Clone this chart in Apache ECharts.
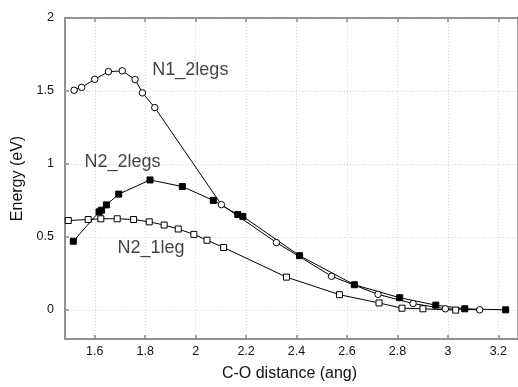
<!DOCTYPE html>
<html>
<head>
<meta charset="utf-8">
<script src="https://cdn.jsdelivr.net/npm/echarts@6/dist/echarts.min.js"></script>
<style>
  html, body { margin: 0; padding: 0; background: #fff; }
  #chart { width: 518px; height: 387px; }
</style>
</head>
<body>
<div id="chart"></div>
<script>
// C-O distance (ang) vs energy (eV)
const n1TwoLegs = [
  [1.518, 1.505], [1.548, 1.525], [1.600, 1.580], [1.654, 1.632], [1.709, 1.638],
  [1.760, 1.578], [1.789, 1.487], [1.838, 1.386], [2.102, 0.721], [2.320, 0.461],
  [2.539, 0.230], [2.723, 0.106], [2.862, 0.043], [2.990, 0.007], [3.126, 0.0],
];
const n2TwoLegs = [
  [1.515, 0.470], [1.617, 0.671], [1.627, 0.683], [1.646, 0.719], [1.695, 0.793],
  [1.819, 0.890], [1.947, 0.845], [2.070, 0.750], [2.167, 0.653], [2.187, 0.640],
  [2.412, 0.371], [2.629, 0.172], [2.809, 0.083], [2.952, 0.032], [3.067, 0.007],
  [3.229, 0.0],
];
const n2OneLeg = [
  [1.495, 0.612], [1.574, 0.619], [1.624, 0.624], [1.689, 0.624], [1.754, 0.619],
  [1.816, 0.603], [1.875, 0.581], [1.931, 0.554], [1.993, 0.517], [2.045, 0.477],
  [2.111, 0.427], [2.360, 0.224], [2.570, 0.104], [2.727, 0.047], [2.818, 0.011],
  [2.901, 0.007], [3.031, -0.002],
];
const xTicks = [1.6, 1.8, 2, 2.2, 2.4, 2.6, 2.8, 3, 3.2];
const yTicks = [0, 0.5, 1, 1.5, 2];
const curveLabels = [
  { name: "N1_2legs", value: [1.979, 1.646] },
  { name: "N2_2legs", value: [1.710, 1.010] },
  { name: "N2_1leg", value: [1.823, 0.424] },
];

const FONT = "Liberation Sans, Arial, Helvetica, sans-serif";
const axisGray = "#8a8a8a";

const chart = echarts.init(document.getElementById("chart"), null, { renderer: "canvas" });

const lineSeries = (name, data, symbol, filled) => ({
  name,
  type: "line",
  data,
  symbol,
  symbolSize: symbol === "circle" ? 6.5 : 6,
  showAllSymbol: true,
  lineStyle: { color: "#000", width: 1 },
  itemStyle: { color: filled ? "#000" : "#fff", borderColor: "#000", borderWidth: 1 },
  z: 3,
});

const lineStyle = { show: true, onZero: false, lineStyle: { color: axisGray, width: 1.5 } };
const tickStyle = { show: true, inside: true, length: 4, lineStyle: { color: axisGray, width: 1.5 } };

// plot box runs a few px past the right edge, as in the cropped original
chart.setOption({
  animation: false,
  backgroundColor: "#fff",
  textStyle: { fontFamily: FONT },
  grid: { left: 65, right: -4, top: 18, bottom: 45, show: true, borderColor: axisGray, borderWidth: 1.5, backgroundColor: "transparent" },
  xAxis: [
    {
      type: "value",
      min: 1.482,
      max: 3.278,
      name: "C-O distance (ang)",
      nameLocation: "middle",
      nameGap: 27,
      nameTextStyle: { fontSize: 16, color: "#111", fontFamily: FONT, padding: [0, 4, 0, 0] },
      axisLine: lineStyle,
      axisTick: { ...tickStyle, customValues: xTicks },
      axisLabel: { customValues: xTicks, fontSize: 12.5, color: "#111", margin: 6, formatter: (v) => String(v) },
      splitLine: { show: true, lineStyle: { color: "#d4d4d4", type: [1, 2], width: 1 } },
    },
    {
      type: "value",
      position: "top",
      gridIndex: 0,
      min: 1.482,
      max: 3.278,
      axisLine: lineStyle,
      axisTick: { ...tickStyle, customValues: xTicks },
      axisLabel: { show: false },
      splitLine: { show: false },
    },
  ],
  yAxis: {
    type: "value",
    min: -0.2,
    max: 2,
    name: "Energy (eV)",
    nameLocation: "middle",
    nameGap: 38,
    nameTextStyle: { fontSize: 16, color: "#111", fontFamily: FONT },
    axisLine: lineStyle,
    axisTick: { ...tickStyle, customValues: yTicks },
    axisLabel: { customValues: yTicks, fontSize: 12.5, color: "#111", margin: 11, formatter: (v) => String(v) },
    splitLine: { show: true, lineStyle: { color: "#d4d4d4", type: [1, 2], width: 1 } },
  },
  series: [
    lineSeries("N1_2legs", n1TwoLegs, "circle", false),
    lineSeries("N2_2legs", n2TwoLegs, "rect", true),
    lineSeries("N2_1leg", n2OneLeg, "rect", false),
    {
      type: "scatter",
      data: curveLabels,
      symbolSize: 0,
      silent: true,
      label: {
        show: true,
        position: "inside",
        formatter: (p) => p.name,
        fontSize: 18,
        color: "#111",
        fontFamily: FONT,
      },
      z: 4,
    },
  ],
});
</script>
</body>
</html>
